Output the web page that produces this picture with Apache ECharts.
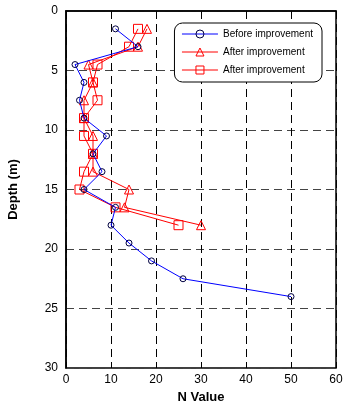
<!DOCTYPE html>
<html><head><meta charset="utf-8">
<script src="https://cdn.jsdelivr.net/npm/echarts@6/dist/echarts.min.js"></script>
<style>html,body{margin:0;padding:0;background:#fff}#c{width:344px;height:402px}</style>
</head><body><div id="c"></div>
<script>
const depthBefore = [1.5,3,4.5,6,7.5,9,10.5,12,13.5,15,16.5,18,19.5,21,22.5,24];
const nBefore     = [11,16,2,4,3,4,9,6,8,4,11,10,14,19,26,50];
const depthAfter  = [1.5,3,4.5,6,7.5,9,10.5,12,13.5,15,16.5,18];
const nAfterTri   = [18,16,5,6,4,4,6,6,6,14,13,30];
const nAfterSq    = [16,14,7,6,7,4,4,6,4,3,11,25];
const xTicks = [0,10,20,30,40,50,60];
const yTicks = [0,5,10,15,20,25,30];
const seriesNames = ['Before improvement','After improvement','After improvement '];

const pairs = (xs, ys) => xs.map((v,i)=>[v, ys[i]]);
const chart = echarts.init(document.getElementById('c'), null, {renderer:'canvas'});
const font = 'Liberation Sans, Arial, sans-serif';
chart.setOption({
  animation:false,
  textStyle:{fontFamily:font},
  grid:{left:66,top:11,right:8,bottom:34,show:true,borderColor:'#000',borderWidth:1.5,backgroundColor:'#fff',
    containLabel:false,outerBoundsMode:'none'},
  xAxis:{type:'value',min:xTicks[0],max:xTicks[xTicks.length-1],interval:10,
    name:'N Value',nameLocation:'middle',nameGap:22,
    nameTextStyle:{fontWeight:'bold',fontSize:13,color:'#000',fontFamily:font},
    axisLine:{show:true,lineStyle:{color:'#000',width:1.5}},axisTick:{show:false},
    axisLabel:{color:'#000',fontSize:12,margin:6,fontFamily:font},
    splitLine:{show:true,lineStyle:{color:'#000',type:[8,5],width:1}}},
  yAxis:{type:'value',inverse:true,min:yTicks[0],max:yTicks[yTicks.length-1],interval:5,
    name:'Depth (m)',nameLocation:'middle',nameGap:46,nameRotate:90,
    nameTextStyle:{fontWeight:'bold',fontSize:13,color:'#000',fontFamily:font},
    axisLine:{show:true,lineStyle:{color:'#000',width:1.5}},axisTick:{show:false},
    axisLabel:{color:'#000',fontSize:12,margin:8,fontFamily:font},
    splitLine:{show:true,lineStyle:{color:'#444',type:[8,5],width:1}}},
  legend:{right:22,top:23,orient:'vertical',backgroundColor:'#fff',
    borderColor:'#000',borderWidth:1,borderRadius:8,padding:[6,9,7,7],
    itemWidth:36,itemHeight:10,itemGap:8,
    lineStyle:{width:1},itemStyle:{borderWidth:1},
    textStyle:{fontSize:10,color:'#000',fontFamily:font}},
  series:[
    {name:seriesNames[0],type:'line',data:pairs(nBefore,depthBefore),
      symbol:'circle',symbolSize:6,lineStyle:{color:'#0000ff',width:1},
      itemStyle:{color:'rgba(255,255,255,0)',borderColor:'#000040',borderWidth:1},z:3},
    {name:seriesNames[1],type:'line',data:pairs(nAfterTri,depthAfter),
      symbol:'triangle',symbolSize:9,lineStyle:{color:'#ff0000',width:1},
      itemStyle:{color:'rgba(255,255,255,0)',borderColor:'#ff0000',borderWidth:1},z:2},
    {name:seriesNames[2],type:'line',data:pairs(nAfterSq,depthAfter),
      symbol:'rect',symbolSize:9,lineStyle:{color:'#ff0000',width:1},
      itemStyle:{color:'rgba(255,255,255,0)',borderColor:'#ff0000',borderWidth:1},z:2}
  ]
});
</script></body></html>
